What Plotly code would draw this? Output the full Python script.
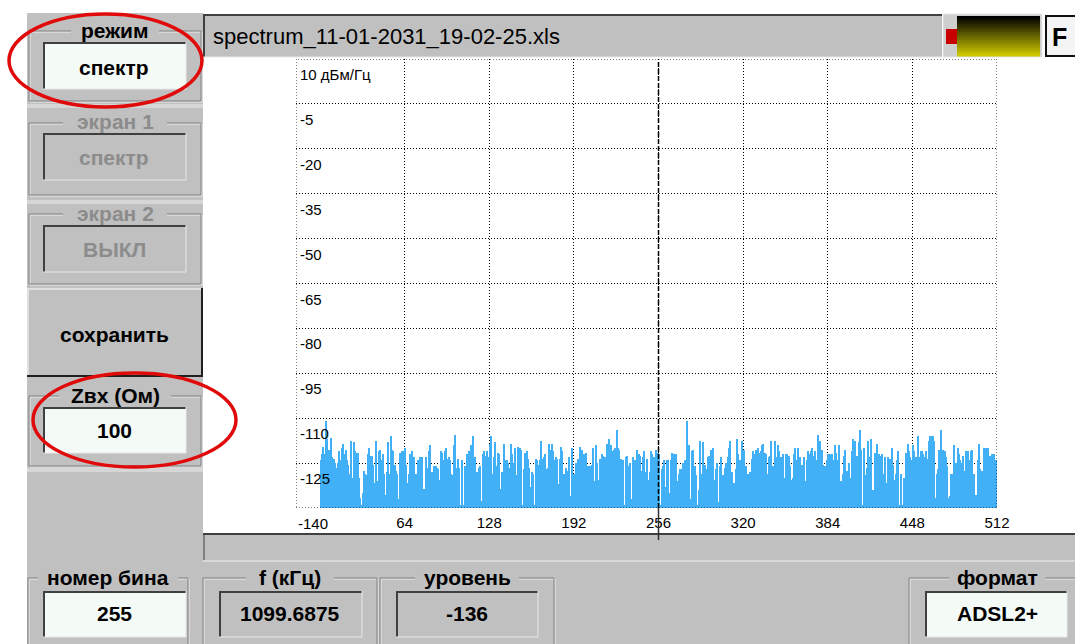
import plotly.graph_objects as go

W, H = 1075, 644

# ---------------- data ----------------
lvl_a = [  # bins 0-127, dBm/Hz
    -124, -122, -119.5, -122, -111, -117, -120.5, -120.5, -116.5, -123,
    -123.5, -125, -126.5, -125, -121, -124, -120, -118.5, -122, -120.5,
    -124, -125.5, -128.5, -117.5, -130, -118, -121, -121.5, -121.5, -130,
    -136.5, -139, -135, -127.5, -128.5, -129, -122, -120, -122.5, -122.5,
    -125.5, -131.5, -117.5, -131, -121, -120.5, -124, -122, -128.5, -135.5,
    -128, -118, -128.5, -116, -120.5, -121, -125.5, -127.5, -128.5, -137,
    -121.5, -122,
    -121, -121, -120, -125.5, -131.5, -128.5, -122, -121, -125, -123,
    -128.5, -130, -124, -123, -123, -123, -133.5, -134, -123, -126.5,
    -121, -119, -128, -128.5, -126, -126, -126.5, -127, -130.5, -121,
    -121.5, -124, -121, -120, -123.5, -123, -124, -128.5, -129, -119,
    -115.5, -126.5, -123.5, -126.5, -139, -124, -139, -126, -126.5, -122,
    -121, -127, -119, -116, -124, -123, -128, -128, -126.5, -126,
    -137.5, -122, -121, -122.5, -121, -123,
]
lvl_b = [  # bins 128-255
    -118.5, -116, -128.5, -123, -118, -126, -121.5, -122, -133.5, -128,
    -139, -118.5, -124, -124, -125, -126.5, -118.5, -122, -125, -120,
    -129, -119.5, -132.5, -120, -120.5, -139, -127, -121.5, -121, -123.5,
    -126.5, -133, -128, -128.5, -139, -123.5, -124, -125.5, -124, -117.5,
    -123.5, -123, -122, -127, -126.5, -118.5, -120.5, -118.5, -121, -124,
    -123, -123.5, -132, -123.5, -119.5, -121, -128.5, -133.5, -126.5, -127.5,
    -123, -136, -120, -129, -128.5, -125, -133, -123.5, -119.5, -125,
    -120.5, -122, -127, -121.5, -126, -127.5, -126, -125.5, -120, -131,
    -119, -125, -130.5, -123.5, -139, -122, -122.5, -123, -133.5, -118.5,
    -117, -128, -119, -121, -120.5, -120, -114, -120, -120.5, -123.5,
    -124, -124, -139, -123, -122.5, -126, -125, -137, -123, -126,
    -124, -120.5, -127.5, -122, -122.5, -127.5, -123, -121, -128, -123.5,
    -130.5, -128, -121, -122, -123, -124, -120.5, -121.5,
]
lvl_c = [  # bins 256-383
    -122, -139, -127, -126, -124, -133, -124, -124, -135, -124,
    -121.5, -122, -127.5, -122, -131, -128.5, -127, -127, -125, -125.5,
    -124, -111, -122, -119, -137, -121, -120.5, -126, -129, -139,
    -134, -117.5, -128.5, -118, -131.5, -125.5, -127, -123, -122.5, -120.5,
    -123.5, -120, -130.5, -127, -125, -138, -126, -123, -129, -129,
    -126.5, -125, -123, -120, -117.5, -128, -132, -131.5, -127, -117,
    -122, -124, -126, -117.5, -120.5, -127.5, -126, -128.5, -130.5, -128,
    -123.5, -121, -122, -120.5, -124, -120, -121.5, -121, -119, -118.5,
    -121.5, -122, -128.5, -123, -122.5, -117.5, -126, -126.5, -117.5, -123,
    -119, -121, -123, -137, -122, -130, -122, -122, -122.5, -126,
    -130.5, -130, -122, -120, -124, -120, -133, -123, -125.5, -127.5,
    -123, -131, -124, -121, -122, -121, -120, -122.5, -121, -124,
    -115.5, -123, -117.5, -120.5, -125.5, -126, -126, -124,
]
lvl_d = [  # bins 384-511
    -122, -122, -132, -122, -124, -119, -121.5, -124, -119, -131.5,
    -131, -128.5, -122.5, -120.5, -127.5, -137, -125, -130, -121, -117,
    -117.5, -127.5, -122.5, -118, -114, -120.5, -139, -120, -129, -126.5,
    -117.5, -123, -117, -135, -134, -121.5, -130, -118.5, -122, -122.5,
    -126.5, -122, -128.5, -123, -131.5, -123, -126.5, -123.5, -120, -125.5,
    -130.5, -128.5, -124, -121, -139, -128.5, -139, -130, -135, -121.5,
    -118.5, -121, -123, -124, -119, -121, -123, -133.5, -116, -123,
    -121, -121, -122, -123, -121, -123.5, -117.5, -116, -116, -116,
    -117.5, -136.5, -128.5, -127, -120.5, -114, -120.5, -120.5, -121, -123,
    -126, -136.5, -136, -128.5, -128.5, -119, -125, -125, -120, -122,
    -124, -125, -122.5, -127.5, -121, -130.5, -121, -124, -121, -120.5,
    -128.5, -139, -135.5, -124, -118.5, -127, -127.5, -133.5, -120, -120,
    -123, -120, -122.5, -126, -122, -122, -126.5, -124,
]
levels = lvl_a + lvl_b + lvl_c + lvl_d
bins = list(range(len(levels)))
y_floor = -140
y_top = 10
y_grid = [10, -5, -20, -35, -50, -65, -80, -95, -110, -125, -140]
y_labels = ["10 дБм/Гц", "-5", "-20", "-35", "-50", "-65", "-80", "-95", "-110", "-125"]
x_ticks = [64, 128, 192, 256, 320, 384, 448, 512]
x_tick_labels = [str(v) for v in x_ticks]
cursor_bin = 256
file_name = "spectrum_11-01-2031_19-02-25.xls"

# ---------------- figure ----------------
FONT = "Liberation Sans, Arial, Helvetica, sans-serif"
GRAY = "#c0c0c0"
DARK = "#404040"
MID = "#808080"
INPUT = "#f4fbf7"
UI = 21

fig = go.Figure()
fig.add_trace(go.Bar(
    x=bins, y=[v - y_floor for v in levels], base=y_floor,
    offset=0, width=1, marker=dict(color="#42b0f6", line=dict(width=0)),
    hoverinfo="skip",
))

px_l, px_r, px_t, px_b = 296, 997, 59, 508
x_left = -(320 - px_l) * 512 / (997 - 320)

shapes = []
ann = []


def fx(x):
    return min(x, W) / W


def fy(y):
    return 1 - min(y, H) / H


def rect(x0, y0, x1, y1, fill, line=None, lw=0):
    shapes.append(dict(type="rect", xref="paper", yref="paper", layer="above",
                       x0=fx(x0), x1=fx(x1), y0=fy(y1), y1=fy(y0),
                       fillcolor=fill, line=dict(width=lw, color=line or fill)))


def line(x0, y0, x1, y1, color, lw=1, dash="solid"):
    shapes.append(dict(type="line", xref="paper", yref="paper", layer="above",
                       x0=fx(x0), x1=fx(x1), y0=fy(y0), y1=fy(y1),
                       line=dict(width=lw, color=color, dash=dash)))


def text(x, y, s, size=UI, color="black", bold=True, xanchor="center"):
    ann.append(dict(xref="paper", yref="paper", x=fx(x), y=fy(y), text=("<b>%s</b>" % s) if bold else s,
                    showarrow=False, xanchor=xanchor, yanchor="middle",
                    font=dict(family=FONT, size=size, color=color)))


def sunken(x0, y0, x1, y1, fill):
    rect(x0, y0, x1, y1, fill)
    line(x0, y0 + 1, x1, y0 + 1, DARK, 2)
    line(x0 + 1, y0, x0 + 1, y1, DARK, 2)
    line(x0, y1, x1, y1, "#e8e8e8", 1)
    line(x1, y0, x1, y1, "#e8e8e8", 1)


def frame(x0, y0, x1, y1, color):
    line(x0, y0, x1, y0, color)
    line(x0, y0, x0, y1, color)
    if x1 < W - 1:
        line(x1, y0, x1, y1, color)
    if y1 < H - 1:
        line(x0, y1, x1, y1, color)


def group(x0, y0, x1, y1, title, tcolor="black", tw=80):
    frame(x0 + 1, y0 + 1, x1 + 1, y1 + 1, "#f0f0f0")
    frame(x0, y0, x1, y1, MID)
    cx = (x0 + x1) / 2
    rect(cx - tw / 2, y0 - 9, cx + tw / 2, y0 + 6, GRAY)
    text(cx, y0 - 1, title, UI, tcolor)


# panels
rect(27, 13, 203, 562, GRAY)
rect(27, 533, W, H, GRAY)
for yy in (106, 202, 470):
    rect(27, yy - 2, 203, yy + 2, "#d6d6d6")

# режим
group(29, 31, 201, 101, "режим", tw=88)
sunken(43, 42, 186, 89, INPUT)
text(114, 67, "спектр")
# экран 1
group(29, 123, 201, 195, "экран 1", "#8c8c8c", tw=104)
sunken(43, 133, 186, 180, GRAY)
text(114, 157, "спектр", color="#8c8c8c")
# экран 2
group(29, 214, 201, 284, "экран 2", "#8c8c8c", tw=104)
sunken(43, 225, 186, 272, GRAY)
text(114, 249, "ВЫКЛ", color="#8c8c8c")
# сохранить button
rect(27, 288, 202, 377, GRAY)
line(27, 289, 202, 289, "#e0e0e0", 2)
line(28, 288, 28, 377, "#e0e0e0", 2)
line(27, 376, 203, 376, "#202020", 2)
line(202, 288, 202, 377, "#202020", 2)
text(114, 334, "сохранить")
# Zвх
group(29, 396, 201, 466, "Zвх (Ом)", tw=112)
sunken(43, 407, 186, 453, INPUT)
text(114, 430, "100")

# header bar
rect(203, 14, 942, 57, GRAY)
line(203, 15, 942, 15, DARK, 2)
line(204, 14, 204, 57, DARK, 2)
line(203, 57, 942, 57, "#e8e8e8", 1)
text(211, 37, file_name, 22, bold=False, xanchor="left")
# indicator
rect(943, 14, 1042, 57, "#cfcfcf", "#e8e8e8", 1)
rect(946, 29, 957, 44, "#c80000")
n_strip = 20
for i in range(n_strip):
    t = i / (n_strip - 1)
    r = int(205 * t)
    g = int(200 * t)
    y0 = 16 + i * 40 / n_strip
    rect(957, y0, 1040, y0 + 40 / n_strip + 0.5, "rgb(%d,%d,0)" % (r, g))
# F button (clipped by the window edge)
rect(1045, 16, W, 56, "#f4f4f4")
line(1045, 16, W, 16, "#101010", 2)
line(1045, 56, W, 56, "#101010", 2)
line(1046, 16, 1046, 56, "#101010", 2)
text(1050, 37, "F", 25, xanchor="left")

# bottom strip / scrollbar
line(203, 534, W, 534, DARK, 2)
line(204, 534, 204, 560, DARK, 1)
line(203, 561, W, 561, "#f0f0f0", 1)

# bottom group boxes
group(28, 578, 188, H, "номер бина", tw=140)
sunken(43, 591, 186, 637, INPUT)
text(114, 613, "255")
group(203, 578, 377, H, "f (кГц)", tw=88)
sunken(219, 591, 362, 637, GRAY)
text(290, 613, "1099.6875")
group(380, 578, 554, H, "уровень", tw=104)
sunken(396, 591, 538, 637, GRAY)
text(467, 613, "-136")
frame(910, 579, W, H, "#f0f0f0")
frame(909, 578, W, H, MID)
rect(949, 569, 1045, 584, GRAY)
text(997, 577, "формат")
sunken(925, 591, 1067, 637, INPUT)
text(997, 613, "ADSL2+")

# red highlight ellipses
shapes.append(dict(type="circle", xref="paper", yref="paper", layer="above",
                   x0=fx(9), x1=fx(202), y0=fy(107), y1=fy(14),
                   line=dict(color="#e10a0a", width=3.5)))
shapes.append(dict(type="circle", xref="paper", yref="paper", layer="above",
                   x0=fx(33), x1=fx(236), y0=fy(467), y1=fy(373),
                   line=dict(color="#e10a0a", width=3.5)))

# plot frame (dotted) and cursor
shapes.append(dict(type="rect", xref="x", yref="y", layer="above",
                   x0=x_left, x1=512, y0=y_floor, y1=y_top,
                   line=dict(color="black", width=1, dash="1px,2px")))
shapes.append(dict(type="line", xref="x", yref="y", layer="above",
                   x0=cursor_bin, x1=cursor_bin, y0=y_floor, y1=y_top,
                   line=dict(color="black", width=1.5, dash="5px,2px")))
shapes.append(dict(type="line", xref="x", yref="paper", layer="above",
                   x0=cursor_bin, x1=cursor_bin, y0=fy(540), y1=fy(px_b),
                   line=dict(color="#303030", width=1.5)))

# y labels inside the plot
for v, s in zip(y_grid, y_labels):
    ann.append(dict(xref="paper", yref="y", x=fx(298), y=v, yanchor="top", xanchor="left",
                    yshift=-5, text=s, showarrow=False,
                    font=dict(family=FONT, size=15, color="black")))
ann.append(dict(xref="paper", yref="paper", x=fx(313), y=fy(523), text="-140", showarrow=False,
                xanchor="center", yanchor="middle", font=dict(family=FONT, size=15, color="black")))

fig.update_layout(
    width=W, height=H, autosize=False,
    margin=dict(l=0, r=0, t=0, b=0, pad=0, autoexpand=False),
    paper_bgcolor="white", plot_bgcolor="white",
    showlegend=False, bargap=0,
    xaxis=dict(domain=[fx(px_l), fx(px_r)], range=[x_left, 512],
               tickvals=x_ticks, ticktext=x_tick_labels, ticks="",
               ticklabelstandoff=4, automargin=False,
               showgrid=True, gridcolor="black", gridwidth=1, griddash="1px,2px",
               zeroline=False, showline=False, fixedrange=True,
               tickfont=dict(family=FONT, size=15, color="black")),
    yaxis=dict(domain=[fy(px_b), fy(px_t)], range=[y_floor, y_top],
               tickvals=y_grid, showticklabels=False, ticks="", automargin=False,
               showgrid=True, gridcolor="black", gridwidth=1, griddash="1px,2px",
               zeroline=False, showline=False, fixedrange=True),
    shapes=shapes, annotations=ann,
)

post = (
    "document.documentElement.style.overflow='hidden';"
    "document.body.style.margin='0';document.body.style.overflow='hidden';"
)
fig.write_html("out.html", config={"displayModeBar": False, "responsive": False},
               post_script=post)
